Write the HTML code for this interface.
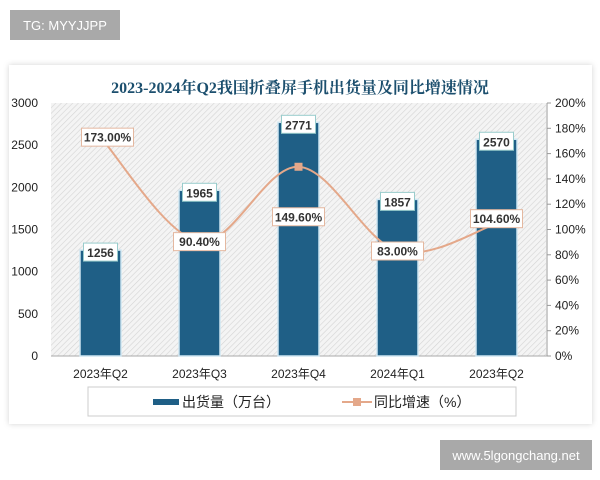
<!DOCTYPE html>
<html><head><meta charset="utf-8"><style>
body{margin:0;width:600px;height:480px;background:#fff;position:relative;overflow:hidden;font-family:"Liberation Sans","Noto Sans CJK SC",sans-serif}
.badge{position:absolute;background:#a9a9a9;color:#fff;font-size:13px;display:flex;align-items:center;justify-content:center}
</style></head><body>
<div class="badge" style="left:10px;top:10px;width:110px;height:30px">TG: MYYJJPP</div>
<div class="badge" style="left:440px;top:440px;width:152px;height:30px">www.5lgongchang.net</div>
<svg id="c" width="600" height="480" style="position:absolute;left:0;top:0">
<defs><pattern id="h" width="4" height="4" patternUnits="userSpaceOnUse" patternTransform="rotate(45)"><rect width="4" height="4" fill="#f4f4f4"/><line x1="0" y1="0" x2="0" y2="4" stroke="#d4d4d4" stroke-width="1.2"/></pattern>
<filter id="sh"><feDropShadow dx="0" dy="0" stdDeviation="3" flood-color="#000" flood-opacity="0.18"/></filter></defs>
<rect x="9" y="65" width="583" height="359" fill="#fff" filter="url(#sh)"/>
<text x="300" y="93" text-anchor="middle" font-family="'Liberation Serif','Noto Serif CJK SC',serif" font-weight="bold" font-size="16" fill="#1c4f6e">2023-2024年Q2我国折叠屏手机出货量及同比增速情况</text>
<rect x="51" y="103" width="495" height="253" fill="url(#h)"/>
<line x1="547" y1="103" x2="547" y2="356" stroke="#999"/>
<line x1="51" y1="356" x2="547" y2="356" stroke="#aaa"/>
<g id="g"></g>
<rect x="88" y="387" width="428" height="29" fill="#fff" stroke="#ccc"/>
<rect x="153" y="399" width="26" height="6" fill="#1f5f86"/>
<text x="182" y="407" font-size="14" fill="#222">出货量（万台）</text>
<line x1="342" y1="402" x2="372" y2="402" stroke="#e4a88a" stroke-width="2"/>
<rect x="353" y="398" width="8" height="8" fill="#e4a88a"/>
<text x="374" y="407" font-size="14" fill="#222">同比增速（%）</text>
</svg>
<script>
const categories=["2023年Q2","2023年Q3","2023年Q4","2024年Q1","2023年Q2"];
const shipments=[1256,1965,2771,1857,2570];
const growth=[173.00,90.40,149.60,83.00,104.60];
const leftTicks=[0,500,1000,1500,2000,2500,3000];
const rightTicks=[0,20,40,60,80,100,120,140,160,180,200];
const NS="http://www.w3.org/2000/svg",g=document.getElementById('g');
const X0=51,X1=546,Y0=356,Y1=103;
const xc=i=>X0+(X1-X0)/categories.length*(i+0.5);
const yl=v=>Y0-(Y0-Y1)*v/3000;
const yr=v=>Y0-(Y0-Y1)*v/200;
function el(t,a,txt){const e=document.createElementNS(NS,t);for(const k in a)e.setAttribute(k,a[k]);if(txt!=null)e.textContent=txt;g.appendChild(e);return e;}
leftTicks.forEach(v=>{const e=el('text',{x:38,y:yl(v)+4,'text-anchor':'end','font-size':12,fill:'#222'},v);

});
rightTicks.forEach(v=>{const e=el('text',{x:555,y:yr(v)+4,'font-size':12,fill:'#222'},v+'%');


const t=el('line',{x1:547,x2:551,y1:yr(v),y2:yr(v),stroke:'#999'});

});
categories.forEach((c,i)=>{const e=el('text',{x:xc(i),y:378,'text-anchor':'middle','font-size':12,fill:'#222'},c);

});
shipments.forEach((v,i)=>{const b=el('rect',{x:xc(i)-20.5,y:yl(v),width:41,height:Y0-yl(v),fill:'#1f5f86',stroke:'#cfe6f2','stroke-width':1.5});


const lb=el('rect',{x:xc(i)-17,y:yl(v)-7,width:34,height:18,fill:'#fff',stroke:'#9cc'});


const t=el('text',{x:xc(i),y:yl(v)+7,'text-anchor':'middle','font-size':12,'font-weight':'bold',fill:'#333'},v);

});
const pts=growth.map((v,i)=>[xc(i),yr(v)]);
let d='M'+pts[0];
for(let i=0;i<pts.length-1;i++){const p0=pts[Math.max(0,i-1)],p1=pts[i],p2=pts[i+1],p3=pts[Math.min(pts.length-1,i+2)];
d+=` C${p1[0]+(p2[0]-p0[0])/6},${p1[1]+(p2[1]-p0[1])/6} ${p2[0]-(p3[0]-p1[0])/6},${p2[1]-(p3[1]-p1[1])/6} ${p2[0]},${p2[1]}`;}
const ln=el('path',{d:d,fill:'none',stroke:'#e4a88a','stroke-width':2});


const off=[[7,0],[0,0],[0,50],[0,0],[0,-5]];
pts.forEach((p,i)=>{const m=el('rect',{x:p[0]-4,y:p[1]-4,width:8,height:8,fill:'#e4a88a'});


const cx=p[0]+off[i][0],cy=p[1]+off[i][1];
const bx=el('rect',{x:cx-26,y:cy-9,width:52,height:18,fill:'#fff',stroke:'#e4b8a0'});


const t=el('text',{x:cx,y:cy+4.5,'text-anchor':'middle','font-size':12,'font-weight':'bold',fill:'#333'},growth[i].toFixed(2)+'%');

});
</script>
</body></html>
